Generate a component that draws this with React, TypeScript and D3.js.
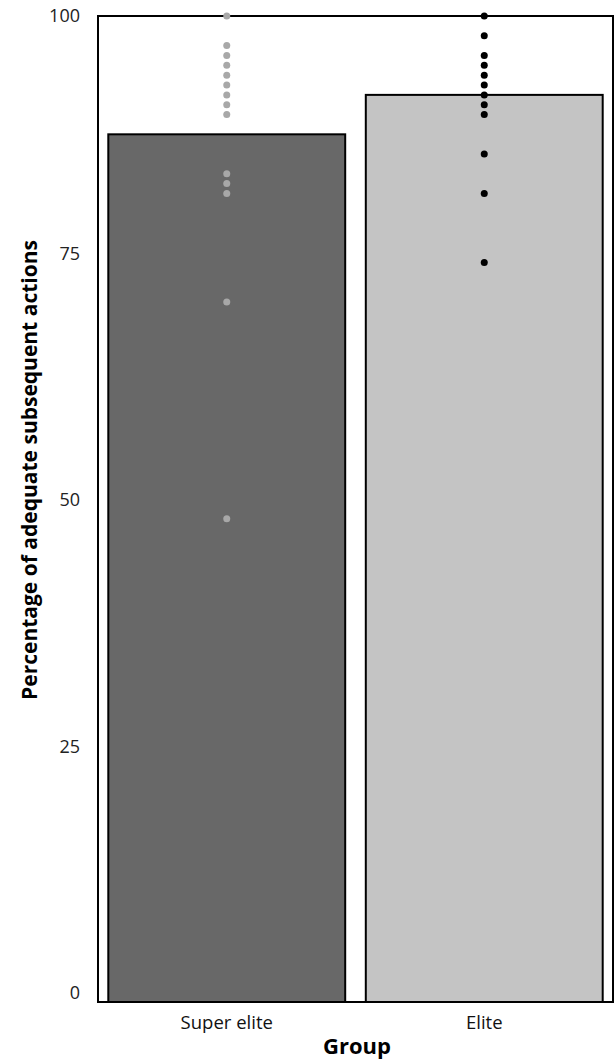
import React, { useRef, useEffect } from "react"
import * as d3 from "d3"

const groups = ["Super elite", "Elite"]
const means = [88, 92]
const superEliteScores = [100, 97, 96, 95, 94, 93, 92, 91, 90, 84, 83, 82, 71, 49]
const eliteScores = [100, 98, 96, 95, 94, 93, 92, 91, 90, 86, 82, 75]
const yTicks = [0, 25, 50, 75, 100]

const barColors = ["#686868", "#c4c4c4"]
const dotColors = ["#a8a8a8", "#000000"]

function App() {
  const ref = useRef<SVGSVGElement>(null)
  const width = 616,
    height = 1059
  const margin = { top: 16, right: 3, bottom: 57, left: 98 }

  useEffect(() => {
    const svg = d3.select(ref.current)
    svg.selectAll("*").remove()

    const font = "'Open Sans', Lato, sans-serif"

    const x = d3
      .scaleBand()
      .domain(groups)
      .range([margin.left, width - margin.right])
      .paddingInner(0.08)
      .paddingOuter(0.04)

    const y = d3
      .scaleLinear()
      .domain([0, 100])
      .range([height - margin.bottom, margin.top])

    // bars
    svg
      .append("g")
      .selectAll("rect")
      .data(groups)
      .join("rect")
      .attr("x", d => x(d)!)
      .attr("y", (d, i) => y(means[i]))
      .attr("width", x.bandwidth())
      .attr("height", (d, i) => y(0) - y(means[i]))
      .attr("fill", (d, i) => barColors[i])
      .attr("stroke", "#000")
      .attr("stroke-width", 2)

    // frame
    svg
      .append("rect")
      .attr("x", margin.left)
      .attr("y", margin.top)
      .attr("width", width - margin.right - margin.left)
      .attr("height", y(0) - margin.top)
      .attr("fill", "none")
      .attr("stroke", "#000")
      .attr("stroke-width", 2)

    // individual dots
    const scores = [superEliteScores, eliteScores]
    scores.forEach((list, i) => {
      svg
        .append("g")
        .selectAll("circle")
        .data(list)
        .join("circle")
        .attr("cx", x.bandwidth() / 2 + x(groups[i])!)
        .attr("cy", d => y(d))
        .attr("r", 3.5)
        .attr("fill", dotColors[i])
    })

    // y tick labels
    svg
      .append("g")
      .selectAll("text")
      .data(yTicks)
      .join("text")
      .attr("x", 80)
      .attr("y", d => (d === 100 ? y(d) : y(d) - 9))
      .attr("dy", "0.35em")
      .attr("text-anchor", "end")
      .style("font-family", font)
      .style("font-size", "18px")
      .attr("fill", "#222")
      .text(d => d)

    // x tick labels
    svg
      .append("g")
      .selectAll("text")
      .data(groups)
      .join("text")
      .attr("x", d => x(d)! + x.bandwidth() / 2)
      .attr("y", y(0) + 27)
      .attr("text-anchor", "middle")
      .style("font-family", font)
      .style("font-size", "18.5px")
      .attr("fill", "#111")
      .text(d => d)

    svg
      .append("text")
      .attr("x", 357)
      .attr("y", height - 5)
      .attr("text-anchor", "middle")
      .style("font-family", font)
      .style("font-size", "22px")
      .style("font-weight", "bold")
      .text("Group")

    svg
      .append("text")
      .attr("transform", `translate(37, 470) rotate(-90)`)
      .attr("text-anchor", "middle")
      .style("font-family", font)
      .style("font-size", "21px")
      .style("font-weight", "bold")
      .text("Percentage of adequate subsequent actions")
  }, [])

  return (
    <svg
      ref={ref}
      width={width}
      height={height}
      style={{ position: "absolute", left: 0, top: 0, background: "#fff" }}
    ></svg>
  )
}

export default App
